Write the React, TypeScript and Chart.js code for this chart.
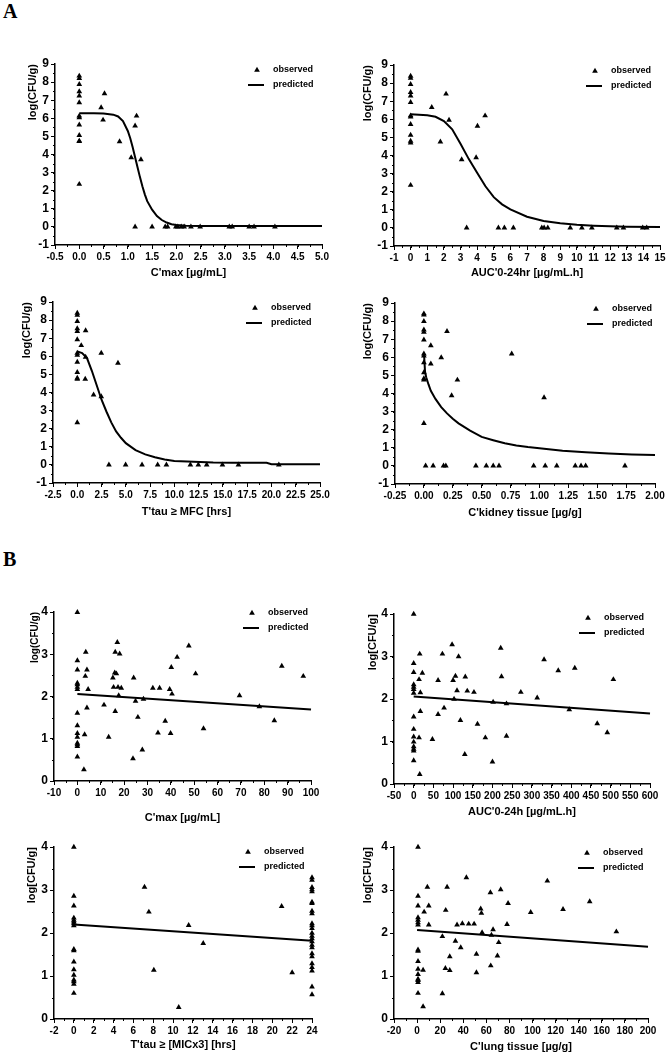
import React, { useEffect, useRef } from 'react';
import { Chart, registerables } from 'chart.js';

Chart.register(...registerables);

// ================= DATA =================
// Panel A1 : C'max [µg/mL]
const a1ObsX = [0, 0, 0, 0, 0, 0, 0, 0, 0, 0, 0, 0, 0, 0.45, 0.49, 0.52, 0.83, 1.07, 1.15, 1.18, 1.27, 1.15, 1.5, 1.77, 1.82, 1.99, 2.03, 2.1, 2.16, 2.3, 2.49, 3.09, 3.15, 3.5, 3.6, 4.03];
const a1ObsY = [8.34, 8.21, 7.88, 7.48, 7.24, 6.87, 6.13, 6.04, 5.64, 5.06, 4.75, 4.72, 2.36, 6.59, 5.91, 7.37, 4.71, 3.83, 5.58, 6.13, 3.72, 0, 0, 0, 0, 0, 0, 0, 0, 0, 0, 0, 0, 0, 0, 0];
const a1PredX = [0, 0.3, 0.5, 0.7, 0.8, 0.9, 1.0, 1.05, 1.1, 1.15, 1.2, 1.25, 1.3, 1.35, 1.4, 1.5, 1.6, 1.7, 1.8, 1.9, 2.0, 2.2, 2.5, 5.0];
const a1PredY = [6.28, 6.28, 6.26, 6.2, 6.1, 5.85, 5.3, 4.9, 4.4, 3.85, 3.3, 2.75, 2.25, 1.8, 1.42, 0.95, 0.6, 0.38, 0.24, 0.15, 0.1, 0.07, 0.05, 0.05];

// Panel A2 : AUC'0-24hr [µg/mL.h]
const a2ObsX = [0, 0, 0, 0, 0, 0, 0, 0, 0, 0, 0, 0, 0, 1.27, 2.13, 2.31, 1.79, 3.07, 3.94, 4.02, 4.48, 3.37, 5.28, 5.64, 6.18, 7.89, 8.03, 8.25, 9.6, 10.3, 10.9, 12.4, 12.8, 13.96, 14.2];
const a2ObsY = [8.39, 8.27, 7.93, 7.49, 7.3, 6.94, 6.2, 6.14, 5.72, 5.13, 4.8, 4.7, 2.36, 6.66, 7.4, 5.96, 4.76, 3.78, 3.89, 5.63, 6.2, 0, 0, 0, 0, 0, 0, 0, 0, 0, 0, 0, 0, 0, 0];
const a2PredX = [0, 1, 1.5, 2, 2.5, 3, 3.5, 4, 4.5, 5, 5.5, 6, 7, 8, 9, 10, 11, 12, 13, 15];
const a2PredY = [6.28, 6.22, 6.14, 5.9, 5.45, 4.65, 3.8, 3.05, 2.3, 1.7, 1.3, 1.02, 0.62, 0.38, 0.26, 0.17, 0.12, 0.09, 0.07, 0.05];

// Panel A3 : T'tau ≥ MFC [hrs]
const a3ObsX = [0, 0, 0, 0, 0, 0, 0, 0, 0, 0, 0, 0, 0, 0.86, 0.41, 0.86, 0.82, 1.68, 2.47, 2.47, 4.19, 3.26, 4.98, 6.67, 8.28, 9.18, 11.65, 12.47, 13.33, 14.95, 16.6, 20.76];
const a3ObsY = [8.39, 8.27, 7.93, 7.53, 7.38, 6.92, 6.18, 6.07, 5.68, 5.11, 4.8, 4.74, 2.34, 7.42, 6.6, 5.96, 4.74, 3.87, 3.78, 6.18, 5.63, 0, 0, 0, 0, 0, 0, 0, 0, 0, 0, 0];
const a3PredX = [0, 0.5, 1, 1.5, 2, 2.5, 3, 3.5, 4, 4.5, 5, 6, 7, 8, 9, 10, 12, 14, 16, 18, 19.5, 20, 25];
const a3PredY = [6.27, 6.18, 5.9, 5.2, 4.4, 3.6, 2.95, 2.35, 1.85, 1.5, 1.2, 0.82, 0.58, 0.42, 0.3, 0.22, 0.17, 0.13, 0.12, 0.12, 0.12, 0.04, 0.03];

// Panel A4 : C'kidney tissue [µg/g]
const a4ObsX = [0, 0, 0, 0, 0, 0, 0, 0, 0, 0, 0, 0, 0, 0.2, 0.06, 0.15, 0.06, 0.29, 0.24, 0.76, 1.04, 0.015, 0.08, 0.17, 0.19, 0.45, 0.54, 0.6, 0.65, 0.95, 1.05, 1.15, 1.31, 1.36, 1.4, 1.74];
const a4ObsY = [8.41, 8.34, 7.99, 7.52, 7.39, 6.97, 6.19, 6.08, 5.71, 5.16, 4.82, 4.75, 2.35, 7.43, 6.65, 5.99, 5.64, 4.75, 3.88, 6.19, 3.77, 0, 0, 0, 0, 0, 0, 0, 0, 0, 0, 0, 0, 0, 0, 0];
const a4PredX = [0.001, 0.01, 0.02, 0.04, 0.06, 0.1, 0.15, 0.2, 0.25, 0.3, 0.4, 0.5, 0.6, 0.7, 0.8, 0.9, 1.0, 1.2, 1.4, 1.6, 1.8, 2.0];
const a4PredY = [6.2, 5.2, 4.9, 4.5, 4.15, 3.7, 3.25, 2.9, 2.6, 2.35, 1.95, 1.6, 1.42, 1.25, 1.13, 1.04, 0.97, 0.84, 0.75, 0.68, 0.63, 0.6];

// Panel B1 : C'max [µg/mL]
const b1ObsX = [0, 0, 0, 0, 0, 0, 0, 0, 0, 0, 0, 0, 0, 0, 0, 3.6, 4.1, 3.4, 4.6, 4.1, 3.1, 2.8, 11.4, 13.4, 15.2, 15.5, 16, 16.2, 16.2, 16.7, 17.1, 17.4, 17.7, 18.1, 18.8, 23.8, 24.1, 24.9, 25.9, 28.3, 27.8, 32.3, 34.5, 35.2, 37.6, 39.5, 39.9, 40.5, 40.2, 42.7, 47.7, 50.6, 54, 69.4, 77.9, 84.3, 87.5, 96.7];
const b1ObsY = [3.99, 2.85, 2.63, 2.32, 2.28, 2.22, 2.17, 1.61, 1.31, 1.13, 1.04, 0.9, 0.86, 0.82, 0.57, 3.05, 2.63, 2.48, 2.17, 1.73, 1.1, 0.27, 1.8, 1.04, 2.44, 2.22, 2.56, 1.65, 3.05, 2.54, 3.28, 2.22, 2.02, 3.01, 2.2, 0.53, 2.44, 1.89, 1.51, 1.94, 0.74, 2.2, 1.14, 2.2, 1.42, 2.17, 1.13, 2.06, 2.69, 2.93, 3.2, 2.54, 1.24, 2.02, 1.76, 1.43, 2.72, 2.48];
const b1PredX = [0, 100];
const b1PredY = [2.06, 1.69];

// Panel B2 : AUC'0-24h [µg/mL.h]
const b2ObsX = [0, 0, 0, 0, 0, 0, 0, 0, 0, 0, 0, 0, 0, 0, 0, 15.3, 13.6, 16.9, 22, 16.9, 13.6, 15.3, 47.5, 61.9, 61.9, 72.9, 77.1, 97.5, 100, 106, 110, 102.5, 114, 118.6, 129.7, 131, 136, 153, 162, 182, 200, 201.7, 221, 223, 235.6, 235.6, 272, 313.6, 331, 367, 395, 409, 466, 491.5, 507];
const b2ObsY = [4.0, 2.84, 2.63, 2.34, 2.28, 2.23, 2.14, 1.58, 1.29, 1.11, 0.99, 0.88, 0.82, 0.78, 0.55, 3.06, 2.46, 2.15, 2.61, 1.71, 1.09, 0.23, 1.05, 2.44, 1.64, 3.06, 1.79, 3.28, 2.44, 2.54, 2.2, 2.0, 3.0, 1.5, 0.7, 2.52, 2.19, 2.16, 1.41, 1.09, 0.52, 1.93, 3.2, 2.53, 1.89, 1.13, 2.16, 2.03, 2.93, 2.67, 1.75, 2.73, 1.42, 1.21, 2.46];
const b2PredX = [0, 600];
const b2PredY = [2.06, 1.66];

// Panel B3 : T'tau ≥ [MICx3] [hrs]
const b3ObsX = [0, 0, 0, 0, 0, 0, 0, 0, 0, 0, 0, 0, 0, 0, 0, 0, 0, 7.12, 7.56, 8.06, 10.57, 11.57, 13.04, 20.94, 22.0, 24, 24, 24, 24, 24, 24, 24, 24, 24, 24, 24, 24, 24, 24, 24, 24, 24, 24, 24, 24, 24, 24, 24, 24, 24];
const b3ObsY = [4.0, 2.86, 2.63, 2.35, 2.3, 2.26, 2.22, 2.17, 1.62, 1.59, 1.33, 1.15, 1.02, 0.91, 0.87, 0.81, 0.6, 3.07, 2.49, 1.14, 0.27, 2.18, 1.76, 2.62, 1.08, 3.29, 3.23, 3.06, 3.01, 2.96, 2.72, 2.69, 2.51, 2.45, 2.22, 2.17, 2.11, 2.0, 1.93, 1.87, 1.8, 1.72, 1.66, 1.52, 1.45, 1.29, 1.2, 1.12, 0.75, 0.57];
const b3PredX = [0, 24];
const b3PredY = [2.2, 1.82];

// Panel B4 : C'lung tissue [µg/g]
const b4ObsX = [0.8, 0.8, 0.8, 0.8, 0.8, 0.8, 0.8, 0.8, 0.8, 0.8, 0.8, 0.8, 0.8, 0.8, 0.8, 0.8, 6.1, 5.2, 5.2, 8.9, 10.1, 10.1, 21.9, 21.9, 24.5, 24.8, 26, 28.3, 28.3, 33.2, 34.6, 37.8, 39.2, 42.7, 44.7, 49.4, 51.4, 51.4, 55.1, 55.7, 56.3, 63.5, 63.8, 64.4, 65.8, 69.6, 70.7, 72.4, 77.9, 78.8, 98.4, 112.8, 126.4, 149.5, 172.6];
const b4ObsY = [4.0, 2.86, 2.63, 2.36, 2.3, 2.24, 2.19, 1.61, 1.58, 1.34, 1.16, 1.04, 0.93, 0.9, 0.85, 0.6, 2.49, 1.14, 0.29, 3.07, 2.63, 2.19, 1.92, 0.59, 1.18, 2.53, 3.07, 1.45, 1.13, 1.81, 2.19, 1.66, 2.22, 3.29, 2.21, 2.21, 1.51, 1.08, 2.56, 2.46, 2.01, 2.94, 1.24, 1.95, 2.08, 1.47, 1.78, 3.01, 2.2, 2.69, 2.48, 3.21, 2.55, 2.73, 2.03];
const b4PredX = [0, 200];
const b4PredY = [2.07, 1.68];

// ================= STYLE / LAYOUT =================
const SANS = '"Liberation Sans", Arial, Helvetica, sans-serif';
const NARROW = '"Liberation Sans Narrow", "Arial Narrow", "Liberation Sans", Arial, sans-serif';

type PanelDef = {
  key: string;
  L: number; T: number; W: number; H: number;
  plotL: number; plotR: number; plotT: number; plotB: number;
  xMin: number; xMax: number; xStep: number; xMinor: number; xDec: number;
  yMin: number; yMax: number;
  xTitle: string; yTitle: string;
  yTitleCx: number; xTitleCy: number; yTitleSize: number;
  legX: number; legY: number;
  obsX: number[]; obsY: number[]; predX: number[]; predY: number[];
};

const panels: PanelDef[] = [
  { key: 'a1', L: 0, T: 40, W: 335, H: 250, plotL: 55, plotR: 322, plotT: 64, plotB: 245,
    xMin: -0.5, xMax: 5, xStep: 0.5, xMinor: 0.25, xDec: 1, yMin: -1, yMax: 9,
    xTitle: "C'max [µg/mL]", yTitle: 'log(CFU/g)', yTitleCx: 33, xTitleCy: 273, yTitleSize: 11,
    legX: 257, legY: 70, obsX: a1ObsX, obsY: a1ObsY, predX: a1PredX, predY: a1PredY },
  { key: 'a2', L: 335, T: 40, W: 335, H: 250, plotL: 394, plotR: 660, plotT: 65, plotB: 246,
    xMin: -1, xMax: 15, xStep: 1, xMinor: 0.5, xDec: 0, yMin: -1, yMax: 9,
    xTitle: "AUC'0-24hr [µg/mL.h]", yTitle: 'log(CFU/g)', yTitleCx: 368, xTitleCy: 273, yTitleSize: 11,
    legX: 595, legY: 71, obsX: a2ObsX, obsY: a2ObsY, predX: a2PredX, predY: a2PredY },
  { key: 'a3', L: 0, T: 290, W: 335, H: 240, plotL: 53, plotR: 320, plotT: 302, plotB: 483,
    xMin: -2.5, xMax: 25, xStep: 2.5, xMinor: 1.25, xDec: 1, yMin: -1, yMax: 9,
    xTitle: "T'tau ≥ MFC [hrs]", yTitle: 'log(CFU/g)', yTitleCx: 27, xTitleCy: 512, yTitleSize: 11,
    legX: 255, legY: 308, obsX: a3ObsX, obsY: a3ObsY, predX: a3PredX, predY: a3PredY },
  { key: 'a4', L: 335, T: 290, W: 335, H: 240, plotL: 395, plotR: 655, plotT: 303, plotB: 484,
    xMin: -0.25, xMax: 2, xStep: 0.25, xMinor: 0.125, xDec: 2, yMin: -1, yMax: 9,
    xTitle: "C'kidney tissue [µg/g]", yTitle: 'log(CFU/g)', yTitleCx: 368, xTitleCy: 513, yTitleSize: 11,
    legX: 596, legY: 309, obsX: a4ObsX, obsY: a4ObsY, predX: a4PredX, predY: a4PredY },
  { key: 'b1', L: 0, T: 590, W: 335, H: 240, plotL: 54, plotR: 311, plotT: 612, plotB: 781,
    xMin: -10, xMax: 100, xStep: 10, xMinor: 5, xDec: 0, yMin: 0, yMax: 4,
    xTitle: "C'max [µg/mL]", yTitle: 'log(CFU/g)', yTitleCx: 35, xTitleCy: 818, yTitleSize: 10,
    legX: 252, legY: 613, obsX: b1ObsX, obsY: b1ObsY, predX: b1PredX, predY: b1PredY },
  { key: 'b2', L: 335, T: 590, W: 335, H: 240, plotL: 394, plotR: 650, plotT: 614, plotB: 784,
    xMin: -50, xMax: 600, xStep: 50, xMinor: 25, xDec: 0, yMin: 0, yMax: 4,
    xTitle: "AUC'0-24h [µg/mL.h]", yTitle: 'log[CFU/g]', yTitleCx: 373, xTitleCy: 812, yTitleSize: 11,
    legX: 588, legY: 618, obsX: b2ObsX, obsY: b2ObsY, predX: b2PredX, predY: b2PredY },
  { key: 'b3', L: 0, T: 830, W: 335, H: 225, plotL: 54, plotR: 312, plotT: 847, plotB: 1019,
    xMin: -2, xMax: 24, xStep: 2, xMinor: 1, xDec: 0, yMin: 0, yMax: 4,
    xTitle: "T'tau ≥ [MICx3] [hrs]", yTitle: 'log[CFU/g]', yTitleCx: 32, xTitleCy: 1045, yTitleSize: 11,
    legX: 248, legY: 852, obsX: b3ObsX, obsY: b3ObsY, predX: b3PredX, predY: b3PredY },
  { key: 'b4', L: 335, T: 830, W: 335, H: 225, plotL: 394, plotR: 648, plotT: 847, plotB: 1019,
    xMin: -20, xMax: 200, xStep: 20, xMinor: 10, xDec: 0, yMin: 0, yMax: 4,
    xTitle: "C'lung tissue [µg/g]", yTitle: 'log[CFU/g]', yTitleCx: 368, xTitleCy: 1047, yTitleSize: 11,
    legX: 587, legY: 853, obsX: b4ObsX, obsY: b4ObsY, predX: b4PredX, predY: b4PredY },
];

// ================= PLUGINS =================
const minorTickPlugin = {
  id: 'minorTicks',
  afterDraw(chart: any, _args: any, o: any) {
    const { ctx, chartArea } = chart;
    const xs = chart.scales.x;
    const ys = chart.scales.y;
    ctx.save();
    ctx.strokeStyle = '#000';
    ctx.lineWidth = 1;
    ctx.beginPath();
    const nx = Math.round((xs.max - xs.min) / o.xStep);
    for (let i = 0; i <= nx; i++) {
      const px = Math.round(xs.getPixelForValue(xs.min + i * o.xStep)) + 0.5;
      ctx.moveTo(px, chartArea.bottom);
      ctx.lineTo(px, chartArea.bottom + o.len);
    }
    const ny = Math.round((ys.max - ys.min) / o.yStep);
    for (let i = 0; i <= ny; i++) {
      const py = Math.round(ys.getPixelForValue(ys.min + i * o.yStep)) + 0.5;
      ctx.moveTo(chartArea.left, py);
      ctx.lineTo(chartArea.left - o.len, py);
    }
    ctx.stroke();
    ctx.restore();
  },
};

const legendPlugin = {
  id: 'obsPredLegend',
  afterDraw(chart: any, _args: any, o: any) {
    const ctx = chart.ctx;
    const x = o.px;
    const y = o.py;
    const r = o.r;
    ctx.save();
    ctx.fillStyle = '#000';
    ctx.strokeStyle = '#000';
    ctx.beginPath();
    for (let i = 0; i < 3; i++) {
      const a = (i * 2 * Math.PI) / 3;
      const px = x + Math.sin(a) * r;
      const py = y - Math.cos(a) * r;
      if (i === 0) ctx.moveTo(px, py);
      else ctx.lineTo(px, py);
    }
    ctx.closePath();
    ctx.fill();
    ctx.lineWidth = 2;
    ctx.beginPath();
    ctx.moveTo(x - 9, y + 15);
    ctx.lineTo(x + 7, y + 15);
    ctx.stroke();
    ctx.font = `bold 9px ${SANS}`;
    ctx.textBaseline = 'middle';
    ctx.textAlign = 'left';
    ctx.fillText('observed', x + 16, y);
    ctx.fillText('predicted', x + 16, y + 15);
    ctx.restore();
  },
};

function buildConfig(p: PanelDef): any {
  const obs = p.obsX.map((x, i) => ({ x, y: p.obsY[i] }));
  const pred = p.predX.map((x, i) => ({ x, y: p.predY[i] }));
  const yAxisW = p.plotL - p.L;
  const xAxisH = p.T + p.H - p.plotB;
  const yLh = p.yTitleSize * 1.2;
  const xLh = 11 * 1.2;
  return {
    type: 'scatter',
    data: {
      datasets: [
        {
          label: 'observed',
          data: obs,
          pointStyle: 'triangle',
          pointRadius: 3.3,
          pointBackgroundColor: '#000',
          pointBorderWidth: 0,
          showLine: false,
          clip: false,
        },
        {
          label: 'predicted',
          data: pred,
          showLine: true,
          pointRadius: 0,
          borderColor: '#000',
          borderWidth: 2,
          tension: 0,
          fill: false,
          clip: false,
        },
      ],
    },
    options: {
      animation: false,
      responsive: false,
      events: [],
      layout: {
        autoPadding: false,
        padding: { left: 0, top: p.plotT - p.T, right: p.L + p.W - p.plotR, bottom: 0 },
      },
      plugins: {
        legend: { display: false },
        tooltip: { enabled: false },
        minorTicks: { xStep: p.xMinor, yStep: 0.5, len: 2 },
        obsPredLegend: { px: p.legX - p.L, py: p.legY - p.T, r: 3.3 },
      },
      scales: {
        x: {
          type: 'linear',
          position: 'bottom',
          min: p.xMin,
          max: p.xMax,
          afterFit: (s: any) => { s.height = xAxisH; },
          border: { display: true, color: '#000', width: 1.5 },
          grid: { display: true, drawOnChartArea: false, drawTicks: true, tickLength: 4, tickColor: '#000', tickWidth: 1 },
          ticks: {
            stepSize: p.xStep,
            autoSkip: false,
            maxRotation: 0,
            minRotation: 0,
            padding: 2,
            color: '#000',
            font: { family: NARROW, size: 10, weight: 'bold' },
            callback: (v: any) => Number(v).toFixed(p.xDec),
          },
          title: {
            display: true,
            text: p.xTitle,
            color: '#000',
            font: { family: SANS, size: 11, weight: 'bold' },
            padding: { top: 0, bottom: p.T + p.H - p.xTitleCy - xLh / 2 },
          },
        },
        y: {
          type: 'linear',
          position: 'left',
          min: p.yMin,
          max: p.yMax,
          afterFit: (s: any) => { s.width = yAxisW; },
          border: { display: true, color: '#000', width: 1.5 },
          grid: { display: true, drawOnChartArea: false, drawTicks: true, tickLength: 4, tickColor: '#000', tickWidth: 1 },
          ticks: {
            stepSize: 1,
            autoSkip: false,
            padding: 2,
            color: '#000',
            font: { family: SANS, size: 12, weight: 'bold' },
            callback: (v: any) => Number(v).toFixed(0),
          },
          title: {
            display: true,
            text: p.yTitle,
            align: 'end',
            color: '#000',
            font: { family: SANS, size: p.yTitleSize, weight: 'bold' },
            padding: { top: p.yTitleCx - p.L - yLh / 2, bottom: 0 },
          },
        },
      },
    },
    plugins: [minorTickPlugin, legendPlugin],
  };
}

function PanelChart({ p }: { p: PanelDef }) {
  const ref = useRef<HTMLCanvasElement | null>(null);
  useEffect(() => {
    if (!ref.current) return;
    const chart = new Chart(ref.current, buildConfig(p));
    return () => chart.destroy();
  }, [p]);
  return (
    <canvas
      ref={ref}
      width={p.W}
      height={p.H}
      style={{ position: 'absolute', left: p.L, top: p.T, width: p.W, height: p.H }}
    />
  );
}

const labelStyle: React.CSSProperties = {
  position: 'absolute',
  fontFamily: '"Liberation Serif", "Times New Roman", serif',
  fontWeight: 'bold',
  fontSize: 20,
  lineHeight: '20px',
  color: '#000',
};

export default function App() {
  return (
    <div style={{ position: 'absolute', left: 0, top: 0, width: 670, height: 1055, background: '#fff', overflow: 'hidden' }}>
      <div style={{ ...labelStyle, left: 3, top: 1 }}>A</div>
      <div style={{ ...labelStyle, left: 3, top: 549 }}>B</div>
      {panels.map((p) => (
        <PanelChart key={p.key} p={p} />
      ))}
    </div>
  );
}
